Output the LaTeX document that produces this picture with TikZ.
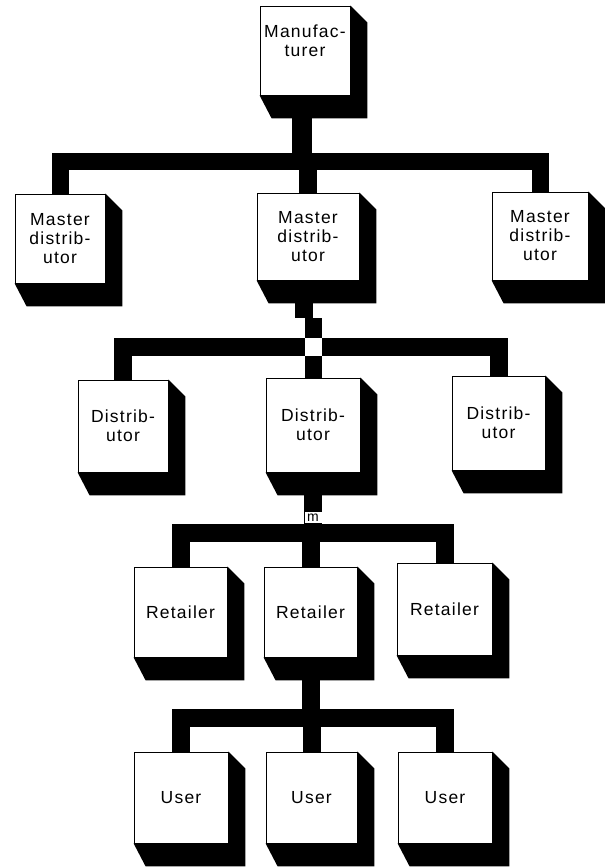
\documentclass[tikz,border=0pt]{standalone}
\usepackage{fontspec}
\setmainfont{Liberation Sans}
\newfontfamily\labfont[LetterSpace=7]{Liberation Sans}
\usetikzlibrary{calc}
\newcommand\chartbox[6]{%
  \node[face, minimum width={#4-#2}, minimum height={#5-#3}] (#1) at ({(#2+#4)/2},{(#3+#5)/2}) {#6};
  \fill[black] (#1.north east) -- ++(17,17) -- ($(#1.south east)+(17,23)$) -- ($(#1.south west)+(12,23)$) -- (#1.south west) -- (#1.south east) -- cycle;}
\begin{document}
\begin{tikzpicture}[x=1pt,y=-1pt,
  face/.style={draw=black, line width=0.8pt, fill=white, inner sep=0pt,
    font=\labfont\fontsize{17.5}{19}\selectfont, align=center},
  lab/.style={inner sep=0pt, font=\labfont\fontsize{17.5}{19}\selectfont, align=center},
  bar/.style={line width=18pt, black, line cap=butt, line join=miter},
]
\useasboundingbox (0,0) rectangle (605,868);

% level 0
\chartbox{mfr}{260}{6}{350}{95}{}
\node[lab] (mfrlabel) at ($(mfr)+(0,-10)$) {Manufac-\\turer};
% level 1
\chartbox{lm}{15}{194}{105}{283}{Master\\distrib-\\utor}
\chartbox{mm}{257}{193}{359}{280}{Master\\distrib-\\utor}
\chartbox{rm}{492}{192}{588}{280}{Master\\distrib-\\utor}
% level 2
\chartbox{ld}{78}{380}{168}{472}{Distrib-\\utor}
\chartbox{md}{266}{378}{360}{472}{Distrib-\\utor}
\chartbox{rd}{452}{376}{545}{470}{Distrib-\\utor}
% level 3
\chartbox{lr}{134}{567}{227}{657}{Retailer}
\chartbox{mr}{264}{567}{357}{657}{Retailer}
\chartbox{rr}{397}{563}{492}{655}{Retailer}
% level 4
\chartbox{lu}{134}{752}{228}{843}{User}
\chartbox{mu}{266}{752}{357}{843}{User}
\chartbox{ru}{398}{752}{492}{843}{User}

% connectors level 0 -> 1
\coordinate (j1) at (302,161.5);
\draw[bar, line width=17pt] (lm.north) -- (lm.north |- j1) -- (rm.north |- j1) -- (rm.north);
\draw[bar, line width=20pt] ([xshift=-3]mfr.south) -- ([xshift=-3]mfr.south |- j1);
\draw[bar] (mm.north) -- (mm.north |- j1);

% connectors level 1 -> 2
\coordinate (j2) at (312,346.5);
\draw[bar] (ld.north) -- (ld.north |- j2) -- (rd.north |- j2) -- (rd.north);
\draw[bar] ([xshift=-4]mm.south) -- ++(0,38);
\draw[bar, line width=17pt] (md.north) -- ++(0,-60);
\fill[white] ($(md.north |- j2)+(-8.5,-9)$) rectangle ++(17,18);

% connectors level 2 -> 3
\coordinate (j3) at (312,532.5);
\draw[bar] (lr.north) -- (lr.north |- j3) -- (rr.north |- j3) -- (rr.north);
\draw[bar] (md.south) -- (md.south |- j3);
\draw[bar] (mr.north) -- (mr.north |- j3);
\node[fill=white, inner sep=0pt, minimum width=17pt, minimum height=11pt,
  font=\fontsize{14}{14}\selectfont] (mark) at ($(md.south |- j3)+(0,-15)$) {m};

% connectors level 3 -> 4
\coordinate (j4) at (312,717.5);
\draw[bar] (lu.north) -- (lu.north |- j4) -- (ru.north |- j4) -- (ru.north);
\draw[bar] (mr.south) -- (mr.south |- j4);
\draw[bar] (mu.north) -- (mu.north |- j4);
\end{tikzpicture}
\end{document}
